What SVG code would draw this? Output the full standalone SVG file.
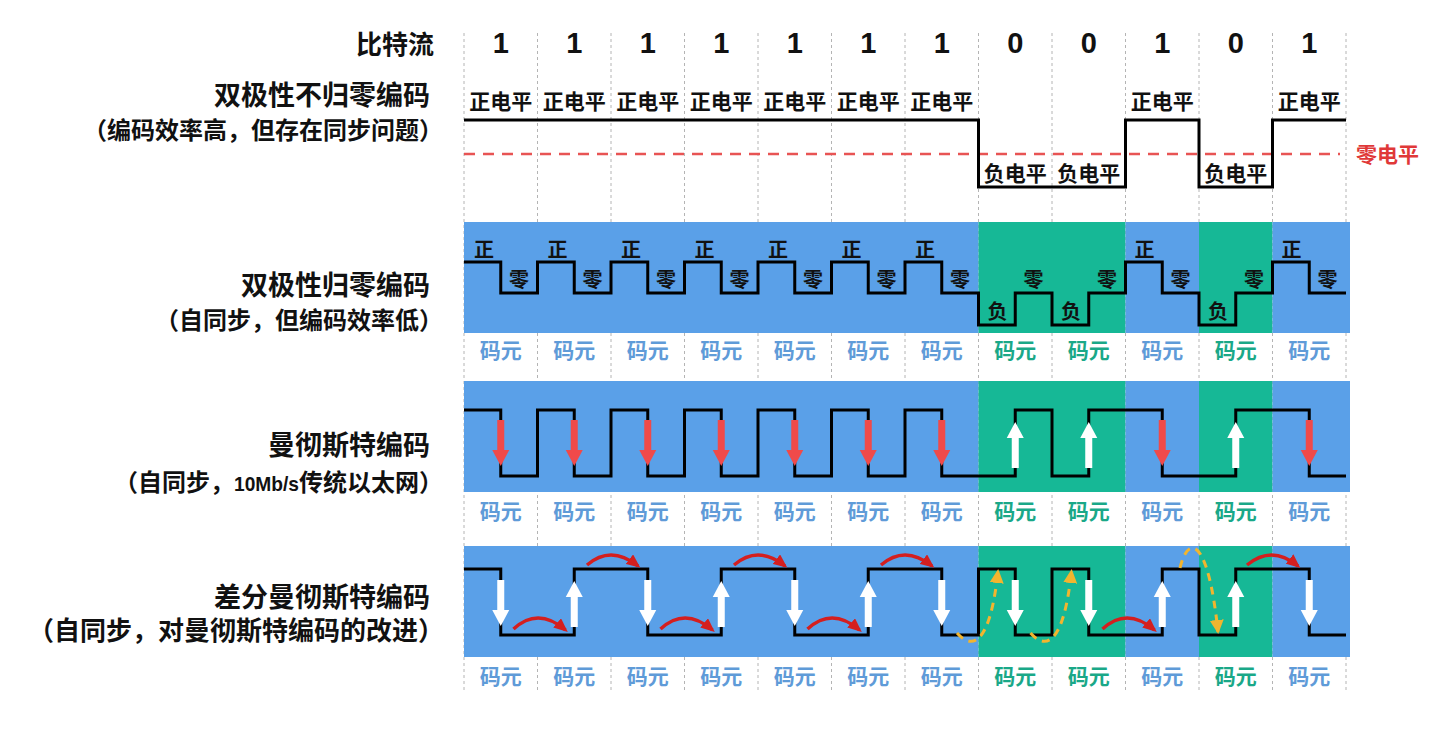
<svg xmlns="http://www.w3.org/2000/svg" width="1452" height="750" viewBox="0 0 1452 750">
<style>
text{font-family:"Noto Sans CJK SC","Noto Sans",sans-serif;font-weight:700;fill:#111}
.t{font-size:27px;text-anchor:end}
.s{font-size:24px;text-anchor:end}
.bit{font-family:"Liberation Sans",Arial,sans-serif;font-size:29px;text-anchor:middle}
.lv{font-size:21px;text-anchor:middle}
.sm{font-size:20px;text-anchor:middle}
.cb{font-size:21px;text-anchor:middle;fill:#5f9bd8}
.cg{font-size:21px;text-anchor:middle;fill:#1aa888}
.grid{stroke:#b4b4b4;stroke-width:1;stroke-dasharray:3 3}
.wave{fill:none;stroke:#000;stroke-width:3;stroke-linejoin:miter}
.blue{fill:#5aa0e8}
.green{fill:#16b896}
.ra{fill:#f04a4a}
.wa{fill:#fff}
.arc{fill:none;stroke:#d41f1f;stroke-width:3.5;marker-end:url(#mr)}
.yl{fill:none;stroke:#f2b52e;stroke-width:3;stroke-dasharray:8 6;marker-end:url(#my)}
</style>
<defs>
<path id="dn" d="M-3.5 0H3.5V30H8.5L0 46L-8.5 30H-3.5Z"/>
<marker id="mr" markerUnits="userSpaceOnUse" markerWidth="14" markerHeight="12" refX="11" refY="6" orient="auto"><path d="M0 0L14 6L0 12Z" fill="#d41f1f"/></marker>
<marker id="my" markerUnits="userSpaceOnUse" markerWidth="14" markerHeight="14" refX="12" refY="7" orient="auto"><path d="M0 0L14 7L0 14Z" fill="#f2b52e"/></marker>
</defs>
<rect width="1452" height="750" fill="#fff"/>

<g id="labels">
<text class="t" x="434" y="54.4" style="font-size:26px">比特流</text>
<text class="t" x="430" y="104.6">双极性不归零编码</text>
<text class="s" x="443" y="138.6">（编码效率高，但存在同步问题）</text>
<text class="t" x="430" y="294.6">双极性归零编码</text>
<text class="s" x="443" y="328.6">（自同步，但编码效率低）</text>
<text class="t" x="430" y="454.6">曼彻斯特编码</text>
<text class="s" x="443" y="490.8">（自同步，<tspan style="font-family:'Liberation Sans',Arial,sans-serif;font-size:21px" textLength="65" lengthAdjust="spacingAndGlyphs">10Mb/s</tspan>传统以太网）</text>
<text class="t" x="430" y="606.6">差分曼彻斯特编码</text>
<text class="s" x="444" y="640" style="font-size:26px">（自同步，对曼彻斯特编码的改进）</text>
</g>

<g id="grid">
<line class="grid" x1="464" y1="33" x2="464" y2="692"/>
<line class="grid" x1="537.5" y1="33" x2="537.5" y2="692"/>
<line class="grid" x1="611" y1="33" x2="611" y2="692"/>
<line class="grid" x1="684.5" y1="33" x2="684.5" y2="692"/>
<line class="grid" x1="758" y1="33" x2="758" y2="692"/>
<line class="grid" x1="831.5" y1="33" x2="831.5" y2="692"/>
<line class="grid" x1="905" y1="33" x2="905" y2="692"/>
<line class="grid" x1="978.5" y1="33" x2="978.5" y2="692"/>
<line class="grid" x1="1052" y1="33" x2="1052" y2="692"/>
<line class="grid" x1="1125.5" y1="33" x2="1125.5" y2="692"/>
<line class="grid" x1="1199" y1="33" x2="1199" y2="692"/>
<line class="grid" x1="1272.5" y1="33" x2="1272.5" y2="692"/>
<line class="grid" x1="1346" y1="33" x2="1346" y2="692"/>
</g>

<g id="bits">
<text class="bit" x="500.75" y="53">1</text>
<text class="bit" x="574.25" y="53">1</text>
<text class="bit" x="647.75" y="53">1</text>
<text class="bit" x="721.25" y="53">1</text>
<text class="bit" x="794.75" y="53">1</text>
<text class="bit" x="868.25" y="53">1</text>
<text class="bit" x="941.75" y="53">1</text>
<text class="bit" x="1015.25" y="53">0</text>
<text class="bit" x="1088.75" y="53">0</text>
<text class="bit" x="1162.25" y="53">1</text>
<text class="bit" x="1235.75" y="53">0</text>
<text class="bit" x="1309.25" y="53">1</text>
</g>

<g id="nrz">
<line x1="464" y1="154" x2="1340" y2="154" stroke="#e85454" stroke-width="2.5" stroke-dasharray="11 8"/>
<text x="1356" y="161.6" style="font-size:21px;fill:#e03838">零电平</text>
<path class="wave" d="M464 120H978.5V187H1125.5V120H1199V187H1272.5V120H1346"/>
<text class="lv" x="500.75" y="108.6">正电平</text>
<text class="lv" x="574.25" y="108.6">正电平</text>
<text class="lv" x="647.75" y="108.6">正电平</text>
<text class="lv" x="721.25" y="108.6">正电平</text>
<text class="lv" x="794.75" y="108.6">正电平</text>
<text class="lv" x="868.25" y="108.6">正电平</text>
<text class="lv" x="941.75" y="108.6">正电平</text>
<text class="lv" x="1162.25" y="108.6">正电平</text>
<text class="lv" x="1309.25" y="108.6">正电平</text>
<text class="lv" x="1015.25" y="180.6">负电平</text>
<text class="lv" x="1088.75" y="180.6">负电平</text>
<text class="lv" x="1235.75" y="180.6">负电平</text>
</g>

<g id="rz">
<rect class="blue" x="464" y="222" width="514.5" height="111"/>
<rect class="green" x="978.5" y="222" width="147" height="111"/>
<rect class="blue" x="1125.5" y="222" width="73.5" height="111"/>
<rect class="green" x="1199" y="222" width="73.5" height="111"/>
<rect class="blue" x="1272.5" y="222" width="77.5" height="111"/>
<path class="wave" d="M464 262H500.75V293H537.5V262H574.25V293H611V262H647.75V293H684.5V262H721.25V293H758V262H794.75V293H831.5V262H868.25V293H905V262H941.75V293H978.5V325H1015.25V293H1052V325H1088.75V293H1125.5V262H1162.25V293H1199V325H1235.75V293H1272.5V262H1309.25V293H1346"/>
<text class="sm" x="484" y="257">正</text>
<text class="sm" x="557.5" y="257">正</text>
<text class="sm" x="631" y="257">正</text>
<text class="sm" x="704.5" y="257">正</text>
<text class="sm" x="778" y="257">正</text>
<text class="sm" x="851.5" y="257">正</text>
<text class="sm" x="925" y="257">正</text>
<text class="sm" x="1144.5" y="257">正</text>
<text class="sm" x="1291.5" y="257">正</text>
<text class="sm" x="519" y="287">零</text>
<text class="sm" x="592.5" y="287">零</text>
<text class="sm" x="666" y="287">零</text>
<text class="sm" x="739.5" y="287">零</text>
<text class="sm" x="813" y="287">零</text>
<text class="sm" x="886.5" y="287">零</text>
<text class="sm" x="960" y="287">零</text>
<text class="sm" x="1033.5" y="287">零</text>
<text class="sm" x="1107" y="287">零</text>
<text class="sm" x="1180.5" y="287">零</text>
<text class="sm" x="1254" y="287">零</text>
<text class="sm" x="1327.5" y="287">零</text>
<text class="sm" x="997.5" y="319">负</text>
<text class="sm" x="1071" y="319">负</text>
<text class="sm" x="1218" y="319">负</text>
<text class="cb" x="500.75" y="357.6">码元</text>
<text class="cb" x="574.25" y="357.6">码元</text>
<text class="cb" x="647.75" y="357.6">码元</text>
<text class="cb" x="721.25" y="357.6">码元</text>
<text class="cb" x="794.75" y="357.6">码元</text>
<text class="cb" x="868.25" y="357.6">码元</text>
<text class="cb" x="941.75" y="357.6">码元</text>
<text class="cg" x="1015.25" y="357.6">码元</text>
<text class="cg" x="1088.75" y="357.6">码元</text>
<text class="cb" x="1162.25" y="357.6">码元</text>
<text class="cg" x="1235.75" y="357.6">码元</text>
<text class="cb" x="1309.25" y="357.6">码元</text>
</g>

<g id="manchester">
<rect class="blue" x="464" y="381" width="514.5" height="111"/>
<rect class="green" x="978.5" y="381" width="147" height="111"/>
<rect class="blue" x="1125.5" y="381" width="73.5" height="111"/>
<rect class="green" x="1199" y="381" width="73.5" height="111"/>
<rect class="blue" x="1272.5" y="381" width="77.5" height="111"/>
<path class="wave" d="M464 410H500.75V476H537.5V410H574.25V476H611V410H647.75V476H684.5V410H721.25V476H758V410H794.75V476H831.5V410H868.25V476H905V410H941.75V476H1015.25V410H1052V476H1088.75V410H1162.25V476H1235.75V410H1309.25V476H1346"/>
<use href="#dn" class="ra" x="500.75" y="420"/>
<use href="#dn" class="ra" x="574.25" y="420"/>
<use href="#dn" class="ra" x="647.75" y="420"/>
<use href="#dn" class="ra" x="721.25" y="420"/>
<use href="#dn" class="ra" x="794.75" y="420"/>
<use href="#dn" class="ra" x="868.25" y="420"/>
<use href="#dn" class="ra" x="941.75" y="420"/>
<use href="#dn" class="ra" x="1162.25" y="420"/>
<use href="#dn" class="ra" x="1309.25" y="420"/>
<use href="#dn" class="wa" transform="translate(1015.25 468) scale(1 -1)"/>
<use href="#dn" class="wa" transform="translate(1088.75 468) scale(1 -1)"/>
<use href="#dn" class="wa" transform="translate(1235.75 468) scale(1 -1)"/>
<text class="cb" x="500.75" y="518.6">码元</text>
<text class="cb" x="574.25" y="518.6">码元</text>
<text class="cb" x="647.75" y="518.6">码元</text>
<text class="cb" x="721.25" y="518.6">码元</text>
<text class="cb" x="794.75" y="518.6">码元</text>
<text class="cb" x="868.25" y="518.6">码元</text>
<text class="cb" x="941.75" y="518.6">码元</text>
<text class="cg" x="1015.25" y="518.6">码元</text>
<text class="cg" x="1088.75" y="518.6">码元</text>
<text class="cb" x="1162.25" y="518.6">码元</text>
<text class="cg" x="1235.75" y="518.6">码元</text>
<text class="cb" x="1309.25" y="518.6">码元</text>
</g>

<g id="diff-manchester">
<rect class="blue" x="464" y="546" width="514.5" height="111"/>
<rect class="green" x="978.5" y="546" width="147" height="111"/>
<rect class="blue" x="1125.5" y="546" width="73.5" height="111"/>
<rect class="green" x="1199" y="546" width="73.5" height="111"/>
<rect class="blue" x="1272.5" y="546" width="77.5" height="111"/>
<path class="wave" d="M464 569H500.75V635H574.25V569H647.75V635H721.25V569H794.75V635H868.25V569H941.75V635H978.5V569H1015.25V635H1052V569H1088.75V635H1162.25V569H1199V635H1235.75V569H1309.25V635H1346"/>
<use href="#dn" class="wa" x="500.75" y="580"/>
<use href="#dn" class="wa" x="647.75" y="580"/>
<use href="#dn" class="wa" x="794.75" y="580"/>
<use href="#dn" class="wa" x="941.75" y="580"/>
<use href="#dn" class="wa" x="1015.25" y="580"/>
<use href="#dn" class="wa" x="1088.75" y="580"/>
<use href="#dn" class="wa" x="1309.25" y="580"/>
<use href="#dn" class="wa" transform="translate(574.25 627) scale(1 -1)"/>
<use href="#dn" class="wa" transform="translate(721.25 627) scale(1 -1)"/>
<use href="#dn" class="wa" transform="translate(868.25 627) scale(1 -1)"/>
<use href="#dn" class="wa" transform="translate(1162.25 627) scale(1 -1)"/>
<use href="#dn" class="wa" transform="translate(1235.75 627) scale(1 -1)"/>
<path class="arc" d="M513.5 629Q538 606.5 565.5 630"/>
<path class="arc" d="M660.5 629Q685 606.5 712.5 630"/>
<path class="arc" d="M807.5 629Q832 606.5 859.5 630"/>
<path class="arc" d="M1102.5 629Q1127 606.5 1154.5 630"/>
<path class="arc" d="M587 565Q611 544.5 638 566"/>
<path class="arc" d="M734 565Q758 544.5 785 566"/>
<path class="arc" d="M881 565Q905 544.5 932 566"/>
<path class="arc" d="M1247 565Q1272 544.5 1298 566"/>
<path class="yl" d="M957 633C972 650 990 646 998 571"/>
<path class="yl" d="M1030.5 633C1045.5 650 1063.5 646 1071.5 571"/>
<path class="yl" d="M1180 568C1188 534 1208 536 1218 632"/>
<text class="cb" x="500.75" y="683.6">码元</text>
<text class="cb" x="574.25" y="683.6">码元</text>
<text class="cb" x="647.75" y="683.6">码元</text>
<text class="cb" x="721.25" y="683.6">码元</text>
<text class="cb" x="794.75" y="683.6">码元</text>
<text class="cb" x="868.25" y="683.6">码元</text>
<text class="cb" x="941.75" y="683.6">码元</text>
<text class="cg" x="1015.25" y="683.6">码元</text>
<text class="cg" x="1088.75" y="683.6">码元</text>
<text class="cb" x="1162.25" y="683.6">码元</text>
<text class="cg" x="1235.75" y="683.6">码元</text>
<text class="cb" x="1309.25" y="683.6">码元</text>
</g>
</svg>
